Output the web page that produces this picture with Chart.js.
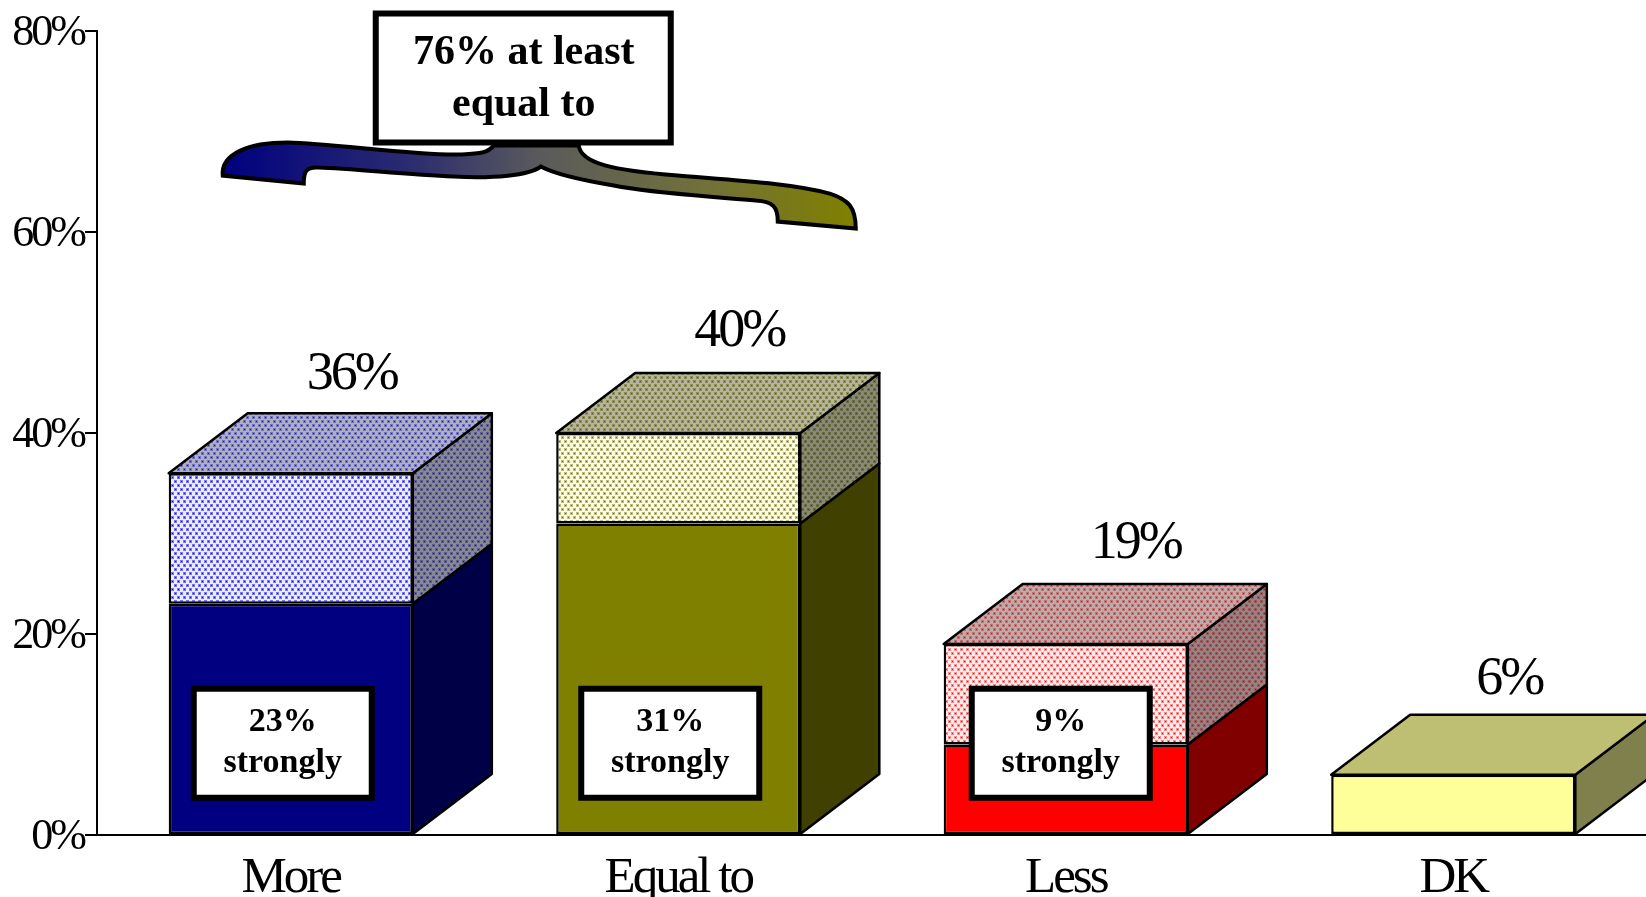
<!DOCTYPE html>
<html>
<head>
<meta charset="utf-8">
<title>More / Equal to / Less</title>
<script src="https://cdn.jsdelivr.net/npm/chart.js@4"></script>
<style>
  html, body { margin: 0; padding: 0; background: #fff; overflow: hidden; }
  canvas { display: block; }
</style>
</head>
<body>
<canvas id="chart" width="1647" height="897"></canvas>
<script>
// data
const categories = ["More", "Equal to", "Less", "DK"];
const strongValues = [23, 31, 9, 0];
const otherValues = [13, 9, 10, 6];
const strongLabels = ["23%", "31%", "9%", null];
const tickLabels = ["0%", "20%", "40%", "60%", "80%"];
const calloutLines = ["76% at least", "equal to"];

const SERIF = '"Liberation Serif", "Times New Roman", serif';
const DEPTH_X = 79, DEPTH_Y = 60;

// small dotted tile, same look as the old powerpoint fill
function dots(bg, dot, core) {
  const c = document.createElement("canvas");
  c.width = 6; c.height = 8;
  const g = c.getContext("2d");
  g.fillStyle = bg; g.fillRect(0, 0, 6, 8);
  [[1, 1], [4, 5]].forEach(p => {
    g.fillStyle = dot; g.fillRect(p[0] - 1, p[1] - 1, 3, 3);
    g.fillStyle = core; g.fillRect(p[0], p[1], 1, 1);
  });
  return g.createPattern(c, "repeat");
}

const strongFront = ["#000080", "#808000", "#ff0000", "#ffff99"];
const strongSide = ["#000046", "#404000", "#800000", "#80804d"];
const otherFront = [
  dots("#ececff", "#7474ff", "#1010e6"),
  dots("#fbfbe6", "#bcbc7c", "#6c6c10"),
  dots("#ffecec", "#ff8888", "#f01010"),
  "#ffff99"
];
const otherTop = [
  dots("#b0b0bc", "#7070c4", "#1818cc"),
  dots("#b4b4a0", "#8c8c54", "#585818"),
  dots("#b8acac", "#c47070", "#d81010"),
  "#bfbf73"
];
const otherSide = [
  dots("#88888f", "#5c5c90", "#18189c"),
  dots("#888878", "#6c6c44", "#444414"),
  dots("#908484", "#9c5858", "#a41010"),
  "#80804d"
];
const totalNudge = [-2, -2, 7, -7];
const totalLift = [24, 27, 26, 21];
const boxNudge = [-8, -8, -5, 0];

function face(ctx, pts, fill) {
  ctx.beginPath();
  pts.forEach((p, i) => i ? ctx.lineTo(p[0], p[1]) : ctx.moveTo(p[0], p[1]));
  ctx.closePath();
  ctx.fillStyle = fill;
  ctx.fill();
  ctx.stroke();
}

// sides and top of the boxes, chart.js only does the front
const boxes3d = {
  id: "boxes3d",
  beforeDraw(chart) {
    chart.ctx.letterSpacing = "-3px";
  },
  beforeDatasetsDraw(chart) {
    const ctx = chart.ctx;
    ctx.save();
    ctx.letterSpacing = "0px";
    ctx.strokeStyle = "#000";
    ctx.lineWidth = 2.5;
    ctx.lineJoin = "round";
    const low = chart.getDatasetMeta(0).data;
    const high = chart.getDatasetMeta(1).data;
    categories.forEach((c, i) => {
      const a = low[i], b = high[i];
      const left = a.x - a.width / 2, right = a.x + a.width / 2;
      if (strongValues[i] > 0) {
        face(ctx, [[right, a.base], [right + DEPTH_X, a.base - DEPTH_Y],
          [right + DEPTH_X, a.y - DEPTH_Y], [right, a.y]], strongSide[i]);
      }
      face(ctx, [[right, b.base], [right + DEPTH_X, b.base - DEPTH_Y],
        [right + DEPTH_X, b.y - DEPTH_Y], [right, b.y]], otherSide[i]);
      face(ctx, [[left, b.y], [left + DEPTH_X, b.y - DEPTH_Y],
        [right + DEPTH_X, b.y - DEPTH_Y], [right, b.y]], otherTop[i]);
    });
    ctx.restore();
  },
  afterDatasetsDraw(chart) {
    const ctx = chart.ctx;
    const x = chart.scales.x, y = chart.scales.y;
    const high = chart.getDatasetMeta(1).data;
    ctx.save();

    // y labels by hand, they sit a little under the tick in the original
    ctx.textAlign = "right";
    ctx.textBaseline = "middle";
    ctx.fillStyle = "#000";
    ctx.letterSpacing = "-3px";
    ctx.font = "44px " + SERIF;
    y.ticks.forEach((t, i) => ctx.fillText(tickLabels[i], 84, y.getPixelForTick(i) + 2));

    ctx.textAlign = "center";
    ctx.textBaseline = "alphabetic";

    // totals above each box
    categories.forEach((c, i) => {
      ctx.letterSpacing = "-3px";
      ctx.font = "54px " + SERIF;
      ctx.fillStyle = "#000";
      const total = strongValues[i] + otherValues[i];
      ctx.fillText(total + "%", high[i].x + 63 + totalNudge[i], high[i].y - DEPTH_Y - totalLift[i]);
    });

    // "strongly" boxes, they sit at the same height on every bar
    const boxTop = y.getPixelForValue(14.85), boxBottom = y.getPixelForValue(3.4);
    ctx.letterSpacing = "0px";
    categories.forEach((c, i) => {
      if (!strongLabels[i]) return;
      const cx = x.getPixelForValue(i) + boxNudge[i];
      ctx.fillStyle = "#fff";
      ctx.strokeStyle = "#000";
      ctx.lineWidth = 6;
      ctx.beginPath();
      ctx.rect(cx - 89, boxTop + 3, 178, boxBottom - boxTop - 6);
      ctx.fill();
      ctx.stroke();
      ctx.fillStyle = "#000";
      ctx.font = "bold 34px " + SERIF;
      ctx.fillText(strongLabels[i], cx, boxTop + 45);
      ctx.fillText("strongly", cx, boxTop + 86);
    });

    // brace under the callout, drawn relative to the callout box
    const bx = x.getPixelForValue(0) + 233, by = y.getPixelForValue(68.6);
    const P = (dx, dy) => [bx + dx, by + dy];
    const grad = ctx.createLinearGradient(bx - 301, 0, bx + 332, 0);
    grad.addColorStop(0, "#000080");
    grad.addColorStop(0.3, "#2c2c70");
    grad.addColorStop(0.5, "#5a5a5c");
    grad.addColorStop(0.75, "#70703c");
    grad.addColorStop(1, "#808000");
    ctx.beginPath();
    ctx.moveTo(...P(-301, 30));
    ctx.bezierCurveTo(...P(-303, 8), ...P(-275, -3), ...P(-236, -3));
    ctx.bezierCurveTo(...P(-190, -2), ...P(-110, 10), ...P(-65, 9));
    ctx.bezierCurveTo(...P(-45, 8), ...P(-36, 8), ...P(-30, 0));
    ctx.lineTo(...P(55, 0));
    ctx.bezierCurveTo(...P(57, 18), ...P(90, 25), ...P(154, 30));
    ctx.bezierCurveTo(...P(215, 35), ...P(270, 38), ...P(306, 48));
    ctx.bezierCurveTo(...P(325, 54), ...P(332, 62), ...P(332, 83));
    ctx.lineTo(...P(254, 76));
    ctx.bezierCurveTo(...P(254, 62), ...P(250, 56), ...P(232, 55));
    ctx.bezierCurveTo(...P(180, 50), ...P(130, 48), ...P(90, 40));
    ctx.bezierCurveTo(...P(60, 35), ...P(30, 28), ...P(17, 21));
    ctx.bezierCurveTo(...P(5, 30), ...P(-30, 33), ...P(-70, 31));
    ctx.bezierCurveTo(...P(-120, 29), ...P(-170, 23), ...P(-205, 22));
    ctx.bezierCurveTo(...P(-218, 21), ...P(-220, 26), ...P(-220, 38));
    ctx.closePath();
    ctx.fillStyle = grad;
    ctx.fill();
    ctx.strokeStyle = "#000";
    ctx.lineWidth = 4;
    ctx.stroke();

    // callout
    ctx.fillStyle = "#fff";
    ctx.lineWidth = 6;
    ctx.beginPath();
    ctx.rect(bx - 148, by - 132, 295, 129);
    ctx.fill();
    ctx.stroke();
    ctx.fillStyle = "#000";
    ctx.font = "bold 42px " + SERIF;
    calloutLines.forEach((t, i) => ctx.fillText(t, bx, by - 82 + i * 52));
    ctx.restore();
  }
};

new Chart(document.getElementById("chart"), {
  type: "bar",
  data: {
    labels: categories,
    datasets: [
      { label: "Strongly", data: strongValues, backgroundColor: strongFront, borderColor: "#000", borderWidth: [2.5, 2.5, 2.5, 0], borderSkipped: false },
      { label: "Somewhat", data: otherValues, backgroundColor: otherFront, borderColor: "#000", borderWidth: 2.5, borderSkipped: false }
    ]
  },
  options: {
    responsive: false,
    animation: false,
    layout: { padding: { top: 31, left: 0, right: 0, bottom: 0 } },
    plugins: { legend: { display: false }, title: { display: false }, tooltip: { enabled: false } },
    datasets: { bar: { categoryPercentage: 0.63, barPercentage: 1 } },
    scales: {
      x: {
        stacked: true,
        grid: { display: false },
        border: { color: "#000", width: 2 },
        afterFit(scale) { scale.height = 62; },
        ticks: {
          color: "#000",
          padding: 5,
          maxRotation: 0,
          font: { family: SERIF, size: 51 }
        }
      },
      y: {
        stacked: true,
        min: 0,
        max: 80,
        afterFit(scale) { scale.width = 97; },
        border: { color: "#000", width: 2 },
        grid: { drawOnChartArea: false, color: "#000", lineWidth: 2, tickLength: 12, tickWidth: 2 },
        ticks: {
          display: false,
          stepSize: 20
        }
      }
    }
  },
  plugins: [boxes3d]
});
</script>
</body>
</html>
